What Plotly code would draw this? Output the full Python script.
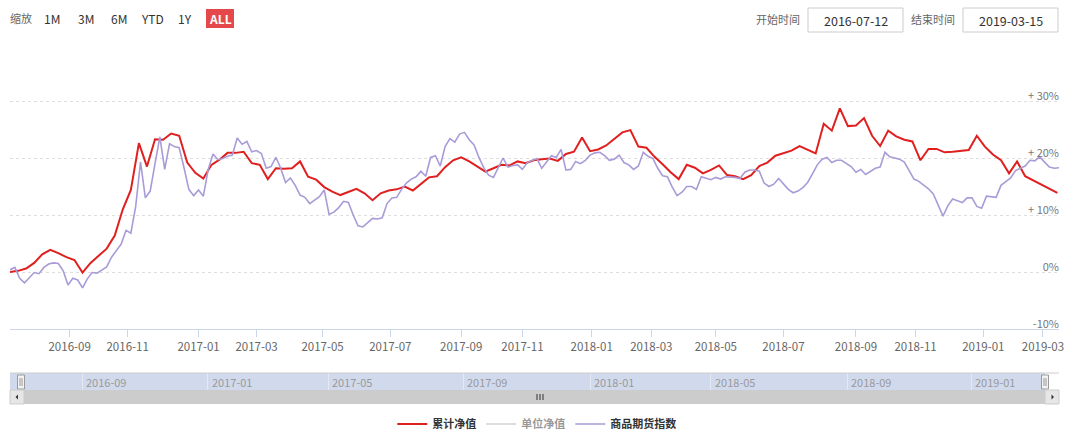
import plotly.graph_objects as go
import pandas as pd

# ---------------- data ----------------
START = "2016-07-12"
END = "2019-03-15"

# exchange holidays (weekdays) inside the period - the axis skips them (ordinal time axis)
HOLIDAYS = [
    "2016-09-15", "2016-09-16", "2016-10-03", "2016-10-04", "2016-10-05", "2016-10-06", "2016-10-07",
    "2017-01-02", "2017-01-27", "2017-01-30", "2017-01-31", "2017-02-01", "2017-02-02",
    "2017-04-03", "2017-04-04", "2017-05-01", "2017-05-29", "2017-05-30",
    "2017-10-02", "2017-10-03", "2017-10-04", "2017-10-05", "2017-10-06",
    "2018-01-01", "2018-02-15", "2018-02-16", "2018-02-19", "2018-02-20", "2018-02-21",
    "2018-04-05", "2018-04-06", "2018-04-30", "2018-05-01", "2018-06-18", "2018-09-24",
    "2018-10-01", "2018-10-02", "2018-10-03", "2018-10-04", "2018-10-05", "2018-12-31",
    "2019-01-01", "2019-02-04", "2019-02-05", "2019-02-06", "2019-02-07", "2019-02-08",
]

# 累计净值 (weekly, %), one value every 5 trading days
nav_cum = [
    0.0, 0.2, 0.6, 1.6, 3.1, 3.9, 3.3, 2.6, 2.1, -0.1,
    1.6, 2.9, 4.1, 6.4, 11.0, 14.4, 22.6, 18.5, 23.3, 23.2,
    24.3, 23.9, 19.2, 17.4, 16.4, 18.8, 19.7, 20.9, 20.9, 21.1,
    19.1, 18.8, 16.3, 18.2, 18.1, 18.2, 19.4, 16.7, 16.2, 14.9,
    14.1, 13.5, 14.1, 14.6, 13.8, 12.6, 13.8, 14.3, 14.5, 15.0,
    14.3, 15.4, 16.6, 16.8, 18.4, 19.6, 20.1, 19.4, 18.5, 17.6,
    18.2, 18.8, 18.7, 19.4, 19.1, 19.6, 19.8, 19.9, 19.5, 20.7,
    21.1, 23.6, 21.2, 21.5, 22.2, 23.4, 24.5, 24.9, 22.0, 21.8,
    20.2, 18.9, 17.5, 16.3, 18.8, 18.3, 17.3, 17.9, 18.7, 17.0,
    16.8, 16.3, 17.0, 18.6, 19.2, 20.4, 20.8, 21.3, 22.1, 21.5,
    20.8, 26.0, 24.8, 28.7, 25.6, 25.7, 27.0, 23.9, 22.1, 24.8,
    23.8, 23.2, 22.9, 19.6, 21.6, 21.6, 21.0, 21.1, 21.3, 21.4,
    23.9, 22.0, 20.6, 19.6, 17.3, 19.4, 16.8, 16.1, 15.3, 14.6,
    13.9,
]

# 商品期货指数 (%), one value every 3 trading days plus the last day
cfi = [
    0.4, 0.8, -1.1, -1.9, -1.0, -0.1, -0.3, 0.8, 1.4, 1.6,
    1.5, 0.2, -2.3, -1.1, -1.4, -2.8, -1.2, -0.1, -0.2, 0.4,
    0.9, 2.6, 3.8, 4.9, 7.3, 6.8, 11.5, 19.3, 13.0, 14.2,
    19.0, 23.7, 18.0, 22.5, 22.0, 21.8, 18.3, 14.5, 13.4, 14.4,
    13.3, 18.0, 20.7, 19.7, 19.9, 20.3, 20.5, 23.5, 22.4, 22.9,
    21.1, 21.3, 20.8, 18.2, 18.5, 20.1, 18.2, 15.7, 16.5, 15.2,
    13.5, 13.1, 12.0, 12.6, 13.2, 14.4, 10.1, 10.5, 11.3, 12.4,
    12.2, 10.0, 8.1, 7.9, 8.7, 9.4, 9.3, 9.5, 12.0, 13.0,
    13.1, 14.5, 15.6, 16.3, 16.7, 17.7, 16.8, 20.1, 20.4, 18.6,
    22.0, 23.4, 22.8, 24.2, 24.5, 23.2, 22.3, 20.1, 18.3, 17.0,
    16.6, 18.3, 20.0, 18.4, 18.7, 18.8, 18.0, 19.2, 19.6, 19.9,
    18.2, 19.3, 20.4, 20.1, 21.5, 17.9, 18.0, 19.4, 19.0, 19.6,
    20.5, 20.9, 21.0, 20.4, 19.6, 19.8, 20.5, 19.2, 18.8, 18.0,
    18.6, 21.0, 20.3, 19.9, 18.2, 16.9, 16.7, 14.9, 13.4, 14.0,
    15.0, 15.0, 14.5, 16.7, 16.5, 16.2, 16.6, 16.3, 16.7, 16.7,
    16.6, 16.4, 17.5, 17.9, 17.9, 17.7, 15.6, 15.0, 15.4, 16.4,
    15.4, 14.5, 13.9, 14.2, 14.8, 15.7, 17.2, 18.8, 19.8, 20.1,
    19.2, 19.6, 19.6, 19.0, 18.5, 17.5, 18.0, 17.1, 17.6, 18.2,
    18.4, 21.0, 20.2, 20.0, 19.8, 19.3, 17.9, 16.3, 15.9, 15.2,
    14.6, 13.7, 11.9, 9.8, 11.6, 12.8, 12.5, 12.2, 13.0, 13.0,
    11.5, 11.2, 13.3, 13.2, 13.1, 15.2, 15.8, 16.5, 17.8, 18.2,
    18.6, 19.6, 19.5, 20.2, 19.2, 18.4, 18.2, 18.3,
]

x_tick_vals = ["2016-09-01", "2016-11-01", "2017-01-03", "2017-03-01", "2017-05-02", "2017-07-03",
               "2017-09-01", "2017-11-01", "2018-01-02", "2018-03-01", "2018-05-02", "2018-07-02",
               "2018-09-03", "2018-11-01", "2019-01-02", "2019-03-01"]
x_tick_text = [v[:7] for v in x_tick_vals]
nav_tick_vals = ["2016-09-01", "2017-01-03", "2017-05-02", "2017-09-01",
                 "2018-01-02", "2018-05-02", "2018-09-03", "2019-01-02"]
nav_tick_text = [v[:7] for v in nav_tick_vals]
y_tick_vals = [-10, 0, 10, 20, 30, 40]
y_tick_text = ["-10%", "0%", "+ 10%", "+ 20%", "+ 30%", ""]

legend_names = ["累计净值", "单位净值", "商品期货指数"]
range_buttons = ["1M", "3M", "6M", "YTD", "1Y", "ALL"]

# ---------------- calendar ----------------
hol = set(HOLIDAYS)
tdays = [d for d in pd.bdate_range(START, END) if d.strftime("%Y-%m-%d") not in hol]
red_dates = tdays[::5][:len(nav_cum)]
idx_pos = list(range(0, len(tdays) - 2, 3)) + [len(tdays) - 1]
cfi_dates = [tdays[i] for i in idx_pos][:len(cfi)]

W, H = 1080, 433
def px(x): return x / W
def py(y): return 1 - y / H

FONT = "Noto Sans CJK SC, Open Sans, sans-serif"
RED = "#e01f1f"
PURPLE = "#a99bd8"
breaks = [dict(bounds=["sat", "mon"]), dict(values=HOLIDAYS)]

fig = go.Figure()
fig.add_trace(go.Scatter(x=red_dates, y=nav_cum[:len(red_dates)], name=legend_names[0], mode="lines",
                         line=dict(color=RED, width=2), xaxis="x", yaxis="y"))
fig.add_trace(go.Scatter(x=red_dates, y=[None] * len(red_dates), name=legend_names[1], mode="lines",
                         visible="legendonly", line=dict(color="#bbbbbb", width=2), xaxis="x", yaxis="y"))
fig.add_trace(go.Scatter(x=cfi_dates, y=cfi[:len(cfi_dates)], name=legend_names[2], mode="lines",
                         line=dict(color=PURPLE, width=1.6), xaxis="x", yaxis="y"))

shapes = []
annotations = []

def note(text, x, y, size=12, color="#666666", **kw):
    annotations.append(dict(text=text, x=px(x), y=py(y), xref="paper", yref="paper", showarrow=False,
                            xanchor="center", yanchor="middle",
                            font=dict(family=FONT, size=size, color=color), **kw))

# navigator band + outline
shapes.append(dict(type="rect", xref="paper", yref="paper", x0=px(10), x1=px(1045), y0=py(390), y1=py(373),
                   fillcolor="rgba(102,133,194,0.3)", line=dict(width=0), layer="below"))
shapes.append(dict(type="line", xref="paper", yref="paper", x0=px(10), x1=px(1059), y0=py(373), y1=py(373),
                   line=dict(color="#cccccc", width=1)))
# navigator axis labels (on the navigator's own date axis)
for tv, tt in zip(nav_tick_vals, nav_tick_text):
    annotations.append(dict(text=tt, x=tv, y=py(382), xref="x2", yref="paper", showarrow=False,
                            xanchor="left", yanchor="middle", xshift=2,
                            font=dict(family=FONT, size=11, color="#999999")))
# handles
for hx in (21, 1045):
    shapes.append(dict(type="rect", xref="paper", yref="paper", x0=px(hx - 3.5), x1=px(hx + 3.5),
                       y0=py(389), y1=py(375), fillcolor="#f2f2f2", line=dict(color="#999999", width=1)))
    for gx in (hx - 1, hx + 1):
        shapes.append(dict(type="line", xref="paper", yref="paper", x0=px(gx), x1=px(gx),
                           y0=py(386), y1=py(378), line=dict(color="#999999", width=1)))
# scrollbar
shapes.append(dict(type="rect", xref="paper", yref="paper", x0=px(10), x1=px(1059), y0=py(404), y1=py(390),
                   fillcolor="#cccccc", line=dict(width=0)))
for bx0, bx1 in ((10, 24), (1045, 1059)):
    shapes.append(dict(type="rect", xref="paper", yref="paper", x0=px(bx0), x1=px(bx1), y0=py(404), y1=py(390),
                       fillcolor="#e6e6e6", line=dict(color="#cccccc", width=1)))
shapes.append(dict(type="path", xref="paper", yref="paper",
                   path=f"M {px(15.5)} {py(397)} L {px(18)} {py(394.5)} L {px(18)} {py(399.5)} Z",
                   fillcolor="#333333", line=dict(width=0)))
shapes.append(dict(type="path", xref="paper", yref="paper",
                   path=f"M {px(1054)} {py(397)} L {px(1051.5)} {py(394.5)} L {px(1051.5)} {py(399.5)} Z",
                   fillcolor="#333333", line=dict(width=0)))
for gx in (537, 540, 543):
    shapes.append(dict(type="line", xref="paper", yref="paper", x0=px(gx), x1=px(gx), y0=py(400), y1=py(394),
                       line=dict(color="#333333", width=1)))

# range selector
note("缩放", 21, 18, size=11, color="#666666")
btn_x = [52, 86, 119, 152, 185, 220]
for lab, bx in zip(range_buttons, btn_x):
    active = lab == "ALL"
    if active:
        shapes.append(dict(type="rect", xref="paper", yref="paper", x0=px(206), x1=px(234), y0=py(28), y1=py(9),
                           fillcolor="#e5484b", line=dict(width=0)))
    note(f"<b>{lab}</b>" if active else lab, bx, 18.5, color="#ffffff" if active else "#333333")
# date inputs
for lab, lx, bx0, bx1, val in (("开始时间", 778, 808, 903, START), ("结束时间", 933, 963, 1058, END)):
    note(lab, lx, 19, size=11, color="#666666")
    shapes.append(dict(type="rect", xref="paper", yref="paper", x0=px(bx0), x1=px(bx1), y0=py(32), y1=py(8),
                       fillcolor="rgba(0,0,0,0)", line=dict(color="#cccccc", width=1)))
    note(val, (bx0 + bx1) / 2, 20, size=12.5, color="#333333")

fig.update_layout(
    width=W, height=H,
    margin=dict(l=0, r=0, t=0, b=0, pad=0, autoexpand=False),
    paper_bgcolor="white", plot_bgcolor="rgba(0,0,0,0)",
    font=dict(family=FONT, size=11, color="#666666"),
    showlegend=True,
    legend=dict(orientation="h", x=0.497, xanchor="center", y=py(424), yanchor="middle",
                font=dict(family=FONT, size=11, color="#333333", weight="bold"),
                itemclick=False, itemdoubleclick=False, traceorder="normal", itemwidth=30),
    xaxis=dict(domain=[px(10), px(1059)], anchor="y", type="date", range=[START, END], rangebreaks=breaks,
               tickvals=x_tick_vals, ticktext=x_tick_text, showgrid=False, showline=True,
               linecolor="#ccd6eb", linewidth=1, ticks="outside", ticklen=7, tickcolor="#ccd6eb",
               tickfont=dict(family=FONT, size=11.5, color="#666666"), zeroline=False, automargin=False,
               ticklabeloverflow="allow"),
    yaxis=dict(domain=[py(329), py(44)], anchor="x", range=[-10, 40], side="right",
               tickvals=y_tick_vals, ticktext=y_tick_text, ticklabelposition="inside",
               ticklabelshift=-5, ticklabelstandoff=-3, showgrid=True, gridcolor="#dedede", griddash="dot",
               gridwidth=1, zeroline=False, tickfont=dict(family=FONT, size=11, color="#777777"), ticks="",
               automargin=False, ticklabeloverflow="allow"),
    xaxis2=dict(domain=[px(24), px(1045)], anchor="y2", type="date", range=[START, END], rangebreaks=breaks,
                tickvals=nav_tick_vals, showgrid=True, gridcolor="#e4e9f3", gridwidth=1,
                showticklabels=False, ticks="", showline=False, zeroline=False, automargin=False),
    yaxis2=dict(domain=[py(390), py(373)], anchor="x2", range=[0, 1], showgrid=False, showticklabels=False,
                zeroline=False, ticks="", automargin=False),
    shapes=shapes, annotations=annotations,
)

fig.write_html("out.html", config={"displayModeBar": False},
               post_script="document.body.style.margin='0px';document.body.style.overflow='hidden';")
